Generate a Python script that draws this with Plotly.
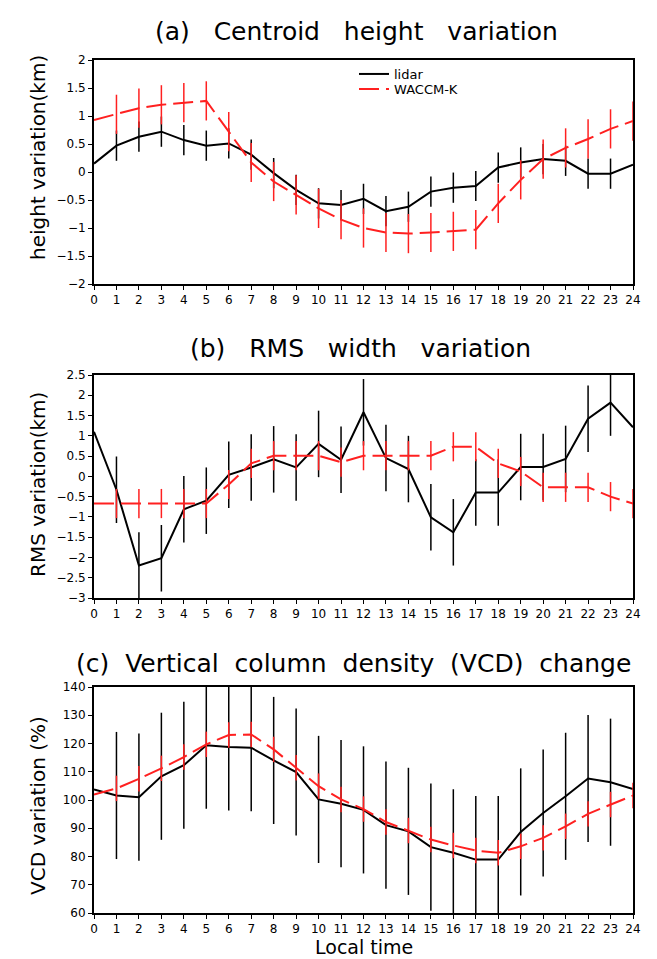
import plotly.graph_objects as go

hours = list(range(25))
x_ticks = list(range(25))

# (a) Centroid height variation (km)
a_lidar = [0.15, 0.47, 0.63, 0.72, 0.57, 0.47, 0.51, 0.31, -0.02, -0.32, -0.56, -0.59, -0.48,
           -0.70, -0.62, -0.35, -0.28, -0.25, 0.08, 0.17, 0.23, 0.20, -0.03, -0.03, 0.13]
a_lidar_err = [0] + [0.27] * 23 + [0]
a_waccm = [0.93, 1.03, 1.14, 1.20, 1.24, 1.27, 0.72, 0.17, -0.17, -0.41, -0.65, -0.85, -1.00,
           -1.08, -1.10, -1.08, -1.06, -1.03, -0.56, -0.14, 0.23, 0.43, 0.59, 0.77, 0.91]
a_waccm_err = [0] + [0.35] * 24

# (b) RMS width variation (km)
b_lidar = [1.10, -0.33, -2.20, -2.02, -0.81, -0.60, 0.04, 0.22, 0.42, 0.22, 0.80, 0.41, 1.58,
           0.45, 0.18, -1.01, -1.38, -0.40, -0.40, 0.23, 0.23, 0.43, 1.42, 1.82, 1.21]
b_lidar_err = [0] + [0.82] * 23 + [0]
b_waccm = [-0.67, -0.67, -0.67, -0.67, -0.67, -0.67, -0.20, 0.32, 0.51, 0.51, 0.51, 0.35, 0.51,
           0.51, 0.51, 0.51, 0.73, 0.73, 0.32, 0.12, -0.27, -0.27, -0.27, -0.50, -0.67]
b_waccm_err = [0] + [0.36] * 24

# (c) VCD variation (%)
c_lidar = [103.7, 101.6, 101.0, 108.4, 112.3, 119.4, 118.8, 118.5, 114.0, 109.9, 100.2, 98.7, 96.5,
           91.1, 88.9, 83.3, 81.3, 78.9, 78.9, 88.7, 95.4, 101.3, 107.6, 106.3, 103.9]
c_lidar_err = [0] + [22.5] * 23 + [0]
c_waccm = [101.9, 104.1, 107.5, 111.2, 115.2, 119.7, 123.0, 123.2, 117.9, 111.4, 104.9, 100.2, 96.8,
           92.2, 89.2, 86.0, 83.9, 82.1, 81.3, 83.6, 86.6, 90.7, 95.1, 98.4, 101.6]
c_waccm_err = [0] + [4.5] * 24

titles = ["(a)   Centroid   height   variation", "(b)   RMS   width   variation",
          "(c)  Vertical  column  density  (VCD)  change"]
ytitles = ["height variation(km)", "RMS variation(km)", "VCD variation (%)"]
series_names = ["lidar", "WACCM-K"]

FONT = "DejaVu Sans"
RED = "#ff2020"

panels = [
    (a_lidar, a_lidar_err, a_waccm, a_waccm_err, [-2, 2], [-2, -1.5, -1, -0.5, 0, 0.5, 1, 1.5, 2]),
    (b_lidar, b_lidar_err, b_waccm, b_waccm_err, [-3, 2.5], [-3, -2.5, -2, -1.5, -1, -0.5, 0, 0.5, 1, 1.5, 2, 2.5]),
    (c_lidar, c_lidar_err, c_waccm, c_waccm_err, [60, 140], [60, 70, 80, 90, 100, 110, 120, 130, 140]),
]

def fmt(v):
    s = f"{abs(v):g}"
    return ("\u2212" + s) if v < 0 else s

# pixel layout helpers
W, H = 657, 959
L, R, T, B = 86, 625, 52, 905
def py(p):  # pixel y -> paper y
    return (B - p) / (B - T)
def px(p):
    return (p - L) / (R - L)

domains = [(py(276), py(52)), (py(590), py(367)), (py(905), py(679))]

fig = go.Figure()
for i, (lid, lid_e, wac, wac_e, yr, yt) in enumerate(panels):
    xa = "x" if i == 0 else f"x{i+1}"
    ya = "y" if i == 0 else f"y{i+1}"
    fig.add_trace(go.Scatter(
        x=hours, y=lid, mode="lines", name=series_names[0], showlegend=(i == 0),
        legend="legend",
        line=dict(color="black", width=2),
        error_y=dict(type="data", array=lid_e, visible=True, color="black", thickness=1.5, width=0),
        xaxis=xa, yaxis=ya))
    fig.add_trace(go.Scatter(
        x=hours, y=wac, mode="lines", name=series_names[1], showlegend=(i == 0),
        legend="legend2",
        line=dict(color=RED, width=2, dash="20px,7px"),
        error_y=dict(type="data", array=wac_e, visible=True, color=RED, thickness=1.5, width=0),
        xaxis=xa, yaxis=ya))

    axis_common = dict(showline=True, linecolor="black", linewidth=2, mirror=True,
                       showgrid=False, zeroline=False, ticks="outside", ticklen=4,
                       tickwidth=1, tickcolor="black",
                       tickfont=dict(family=FONT, size=12, color="black"))
    xkey = "xaxis" if i == 0 else f"xaxis{i+1}"
    ykey = "yaxis" if i == 0 else f"yaxis{i+1}"
    fig.update_layout({
        xkey: dict(axis_common, range=[0, 24], tickvals=x_ticks, ticktext=[str(v) for v in x_ticks],
                   anchor=ya, domain=[0, 1]),
        ykey: dict(axis_common, range=yr, tickvals=yt, ticktext=[fmt(v) for v in yt],
                   anchor=xa, domain=list(domains[i])),
    })

annotations = []
title_y = [23, 340, 655]
title_x = [348, 352, 345]
for t, yy, xx in zip(titles, title_y, title_x):
    annotations.append(dict(text=t, x=px(xx), y=py(yy), xref="paper", yref="paper",
                            showarrow=False, xanchor="center", yanchor="middle",
                            font=dict(family=FONT, size=25, color="black")))
ytitle_y = [150, 477, 797]
for t, yy in zip(ytitles, ytitle_y):
    annotations.append(dict(text=t, x=px(30), y=py(yy), xref="paper", yref="paper",
                            showarrow=False, xanchor="center", yanchor="middle", textangle=-90,
                            font=dict(family=FONT, size=20, color="black")))
annotations.append(dict(text="Local time", x=0.5, y=py(939), xref="paper", yref="paper",
                        showarrow=False, xanchor="center", yanchor="middle", borderpad=0,
                        font=dict(family=FONT, size=19, color="black")))

leg_common = dict(xanchor="left", yanchor="middle", bgcolor="rgba(0,0,0,0)",
                  font=dict(family=FONT, size=13, color="black"), borderwidth=0)
fig.update_layout(
    width=W, height=H,
    margin=dict(l=L, r=W - R, t=T, b=H - B),
    paper_bgcolor="white", plot_bgcolor="white",
    annotations=annotations,
    showlegend=True,
    legend=dict(leg_common, x=px(346), y=py(66)),
    legend2=dict(leg_common, x=px(346), y=py(81)),
)

fig.write_html("out.html")
